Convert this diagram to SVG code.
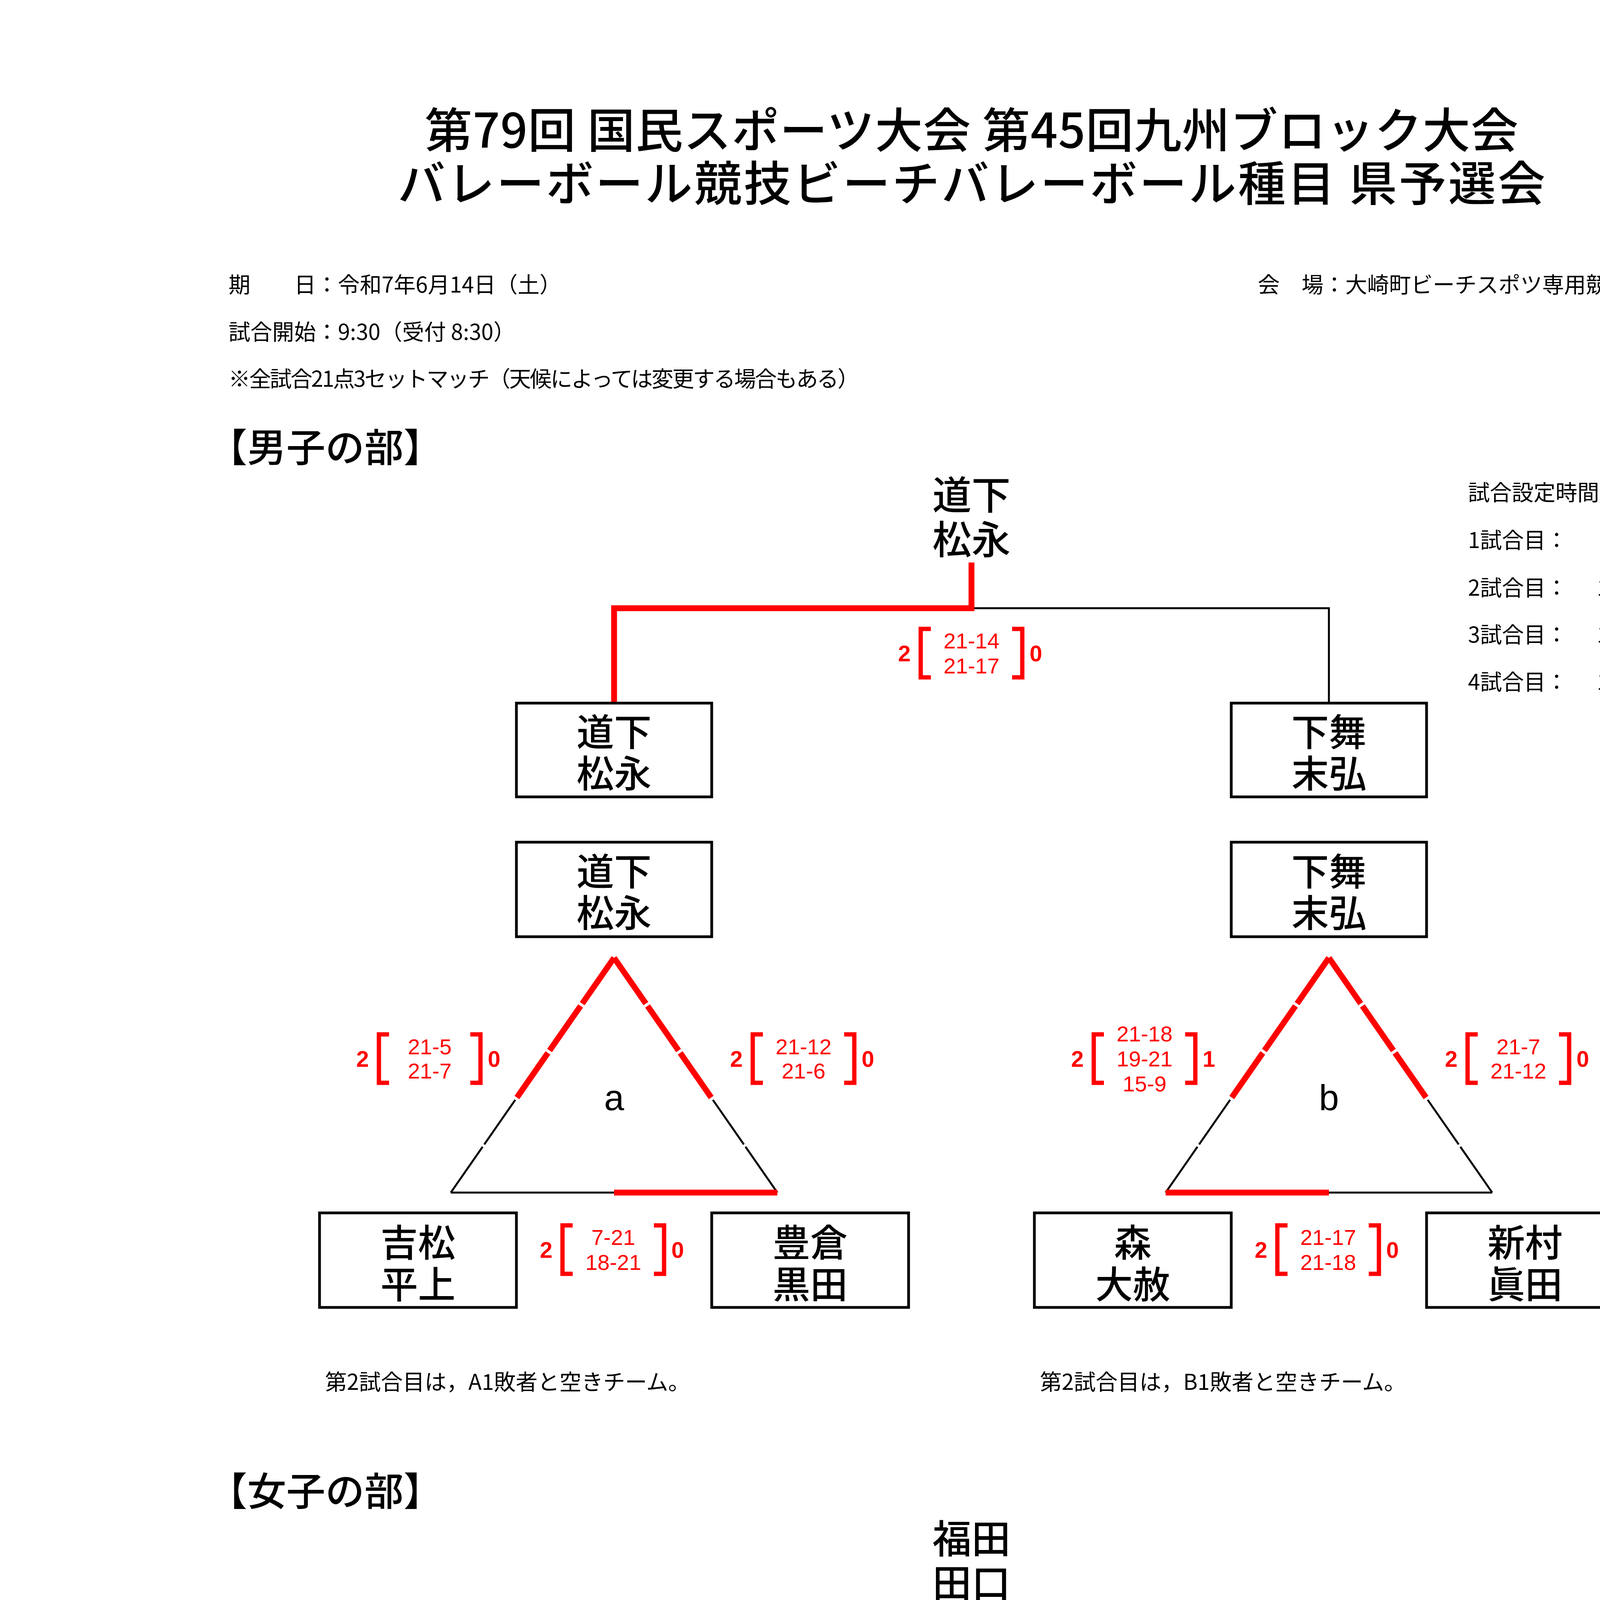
<svg xmlns="http://www.w3.org/2000/svg" width="4960" height="7015" viewBox="0 0 4960 7015">
<style>
.j{font-family:"Noto Sans CJK JP","Liberation Sans",sans-serif;fill:#000;dominant-baseline:central}
.ttl{font-size:122px;text-anchor:middle;font-weight:500}
.sm{font-size:56px}
.hd{font-size:100px;font-weight:500}
.tm{font-size:96px;text-anchor:middle;font-weight:500}
.ch{font-size:100px;text-anchor:middle;font-weight:500}
.lb{font-family:"Liberation Sans",Arial,sans-serif;font-size:92px;text-anchor:middle;fill:#000}
.s{font-family:"Liberation Sans",Arial,sans-serif;font-size:56px;fill:#f00;text-anchor:middle;dominant-baseline:central}
.sb{font-family:"Liberation Sans",Arial,sans-serif;font-size:58px;font-weight:bold;fill:#f00;text-anchor:middle;dominant-baseline:central}
.box{fill:#fff;stroke:#000;stroke-width:7}
.k{stroke:#000;stroke-width:5;fill:none}
.r{stroke:#f00;stroke-width:15;fill:none}
.br{stroke:#f00;stroke-width:11;fill:none;stroke-linejoin:miter}
</style>
<defs>
<g id="brk"><polyline class="br" points="-104,-62 -130,-62 -130,62 -104,62"/><polyline class="br" points="104,-62 130,-62 130,62 104,62"/></g>
</defs>
<rect width="4960" height="7015" fill="#fff"/>

<g id="header">
<text class="j ttl" x="2487" y="324" textLength="2800" lengthAdjust="spacing">第79回 国民スポーツ大会 第45回九州ブロック大会</text>
<text class="j ttl" x="2487" y="460" textLength="2938" lengthAdjust="spacing">バレーボール競技ビーチバレーボール種目 県予選会</text>
<text class="j sm" x="585" y="724">期　　日：令和7年6月14日（土）</text>
<text class="j sm" x="4228" y="724" text-anchor="end">会　場：大崎町ビーチスポツ専用競技場</text>
<text class="j sm" x="585" y="845">試合開始：9:30（受付 8:30）</text>
<text class="j sm" x="585" y="965" textLength="1615" lengthAdjust="spacing">※全試合21点3セットマッチ（天候によっては変更する場合もある）</text>
<text class="j hd" x="533" y="1138">【男子の部】</text>
<text class="j hd" x="533" y="3810">【女子の部】</text>
</g>

<g id="schedule">
<text class="j sm" x="3758" y="1256">試合設定時間</text>
<text class="j sm" x="3758" y="1378">1試合目：</text><text class="j sm" x="4228" y="1378" text-anchor="end">9:30</text>
<text class="j sm" x="3758" y="1500">2試合目：</text><text class="j sm" x="4228" y="1500" text-anchor="end">10:20</text>
<text class="j sm" x="3758" y="1620">3試合目：</text><text class="j sm" x="4228" y="1620" text-anchor="end">11:10</text>
<text class="j sm" x="3758" y="1741">4試合目：</text><text class="j sm" x="4228" y="1741" text-anchor="end">13:30</text>
</g>

<g id="connectors">
<g id="m-final-lines">
<polyline class="k" points="2487,1557 3402,1557 3402,1800"/>
<polyline class="r" points="2487,1440 2487,1557 1572,1557 1572,1800" stroke-linejoin="miter"/>
</g>
<g id="m-tri-a" transform="translate(1572,0)">
<line class="k" x1="-252.9" y1="2815.6" x2="-332.3" y2="2929.8"/>
<line class="k" x1="-336.5" y1="2935.8" x2="-418" y2="3053"/>
<line class="k" x1="252.9" y1="2815.6" x2="332.3" y2="2929.8"/>
<line class="k" x1="336.5" y1="2935.8" x2="418" y2="3053"/>
<line class="k" x1="-418" y1="3053" x2="0" y2="3053"/>
<line class="r" x1="0" y1="2452" x2="-81.5" y2="2569.2"/>
<line class="r" x1="-85.7" y1="2575.2" x2="-165.1" y2="2689.4"/>
<line class="r" x1="-169.3" y1="2695.4" x2="-248.7" y2="2809.6"/>
<line class="r" x1="0" y1="2452" x2="81.5" y2="2569.2"/>
<line class="r" x1="85.7" y1="2575.2" x2="165.1" y2="2689.4"/>
<line class="r" x1="169.3" y1="2695.4" x2="248.7" y2="2809.6"/>
<line class="r" x1="0" y1="3053" x2="418" y2="3053"/>
</g>
<g id="m-tri-b" transform="translate(3402,0)">
<line class="k" x1="-252.9" y1="2815.6" x2="-332.3" y2="2929.8"/>
<line class="k" x1="-336.5" y1="2935.8" x2="-418" y2="3053"/>
<line class="k" x1="252.9" y1="2815.6" x2="332.3" y2="2929.8"/>
<line class="k" x1="336.5" y1="2935.8" x2="418" y2="3053"/>
<line class="k" x1="0" y1="3053" x2="418" y2="3053"/>
<line class="r" x1="0" y1="2452" x2="-81.5" y2="2569.2"/>
<line class="r" x1="-85.7" y1="2575.2" x2="-165.1" y2="2689.4"/>
<line class="r" x1="-169.3" y1="2695.4" x2="-248.7" y2="2809.6"/>
<line class="r" x1="0" y1="2452" x2="81.5" y2="2569.2"/>
<line class="r" x1="85.7" y1="2575.2" x2="165.1" y2="2689.4"/>
<line class="r" x1="169.3" y1="2695.4" x2="248.7" y2="2809.6"/>
<line class="r" x1="-418" y1="3053" x2="0" y2="3053"/>
</g>
<g transform="translate(0,2672)">
<g id="w-final-lines">
<polyline class="k" points="2487,1557 3402,1557 3402,1800"/>
<polyline class="r" points="2487,1440 2487,1557 1572,1557 1572,1800" stroke-linejoin="miter"/>
</g>
<g id="w-tri-c" transform="translate(1572,0)">
<line class="k" x1="-252.9" y1="2815.6" x2="-332.3" y2="2929.8"/>
<line class="k" x1="-336.5" y1="2935.8" x2="-418" y2="3053"/>
<line class="k" x1="252.9" y1="2815.6" x2="332.3" y2="2929.8"/>
<line class="k" x1="336.5" y1="2935.8" x2="418" y2="3053"/>
<line class="k" x1="0" y1="3053" x2="418" y2="3053"/>
<line class="r" x1="0" y1="2452" x2="-81.5" y2="2569.2"/>
<line class="r" x1="-85.7" y1="2575.2" x2="-165.1" y2="2689.4"/>
<line class="r" x1="-169.3" y1="2695.4" x2="-248.7" y2="2809.6"/>
<line class="r" x1="0" y1="2452" x2="81.5" y2="2569.2"/>
<line class="r" x1="85.7" y1="2575.2" x2="165.1" y2="2689.4"/>
<line class="r" x1="169.3" y1="2695.4" x2="248.7" y2="2809.6"/>
<line class="r" x1="-418" y1="3053" x2="0" y2="3053"/>
</g>
<g id="w-tri-d" transform="translate(3402,0)">
<line class="k" x1="0" y1="2452" x2="-81.5" y2="2569.2"/>
<line class="k" x1="-85.7" y1="2575.2" x2="-165.1" y2="2689.4"/>
<line class="k" x1="252.9" y1="2815.6" x2="332.3" y2="2929.8"/>
<line class="k" x1="336.5" y1="2935.8" x2="418" y2="3053"/>
<line class="k" x1="0" y1="3053" x2="418" y2="3053"/>
<line class="r" x1="-169.3" y1="2695.4" x2="-248.7" y2="2809.6"/>
<line class="r" x1="-252.9" y1="2815.6" x2="-332.3" y2="2929.8"/>
<line class="r" x1="-336.5" y1="2935.8" x2="-418" y2="3053"/>
<line class="r" x1="0" y1="2452" x2="81.5" y2="2569.2"/>
<line class="r" x1="85.7" y1="2575.2" x2="165.1" y2="2689.4"/>
<line class="r" x1="169.3" y1="2695.4" x2="248.7" y2="2809.6"/>
<line class="r" x1="-418" y1="3053" x2="0" y2="3053"/>
</g>
</g>
</g>

<g id="men">
<g id="m-champion"><text class="j ch"><tspan x="2487" y="1260">道下</tspan><tspan x="2487" y="1374">松永</tspan></text></g>
<g id="m-final-left"><rect class="box" x="1322" y="1800" width="500" height="240"/><text class="j tm"><tspan x="1572" y="1867">道下</tspan><tspan x="1572" y="1973">松永</tspan></text></g>
<g id="m-final-right"><rect class="box" x="3152" y="1800" width="500" height="240"/><text class="j tm"><tspan x="3402" y="1867">下舞</tspan><tspan x="3402" y="1973">末弘</tspan></text></g>
<g transform="translate(1572,0)">
<g id="m-a-top"><rect class="box" x="-250" y="2156" width="500" height="242"/><text class="j tm"><tspan x="0" y="2224">道下</tspan><tspan x="0" y="2330">松永</tspan></text></g>
<g id="m-a-left"><rect class="box" x="-754" y="3105" width="504" height="242"/><text class="j tm"><tspan x="-502" y="3174">吉松</tspan><tspan x="-502" y="3281">平上</tspan></text></g>
<g id="m-a-right"><rect class="box" x="250" y="3105" width="504" height="242"/><text class="j tm"><tspan x="502" y="3174">豊倉</tspan><tspan x="502" y="3281">黒田</tspan></text></g>
<text class="lb" x="0" y="2842">a</text>
<text class="j sm" x="-740" y="3533">第2試合目は，A1敗者と空きチーム。</text>
</g>
<g transform="translate(3402,0)">
<g id="m-b-top"><rect class="box" x="-250" y="2156" width="500" height="242"/><text class="j tm"><tspan x="0" y="2224">下舞</tspan><tspan x="0" y="2330">末弘</tspan></text></g>
<g id="m-b-left"><rect class="box" x="-754" y="3105" width="504" height="242"/><text class="j tm"><tspan x="-502" y="3174">森</tspan><tspan x="-502" y="3281">大赦</tspan></text></g>
<g id="m-b-right"><rect class="box" x="250" y="3105" width="504" height="242"/><text class="j tm"><tspan x="502" y="3174">新村</tspan><tspan x="502" y="3281">眞田</tspan></text></g>
<text class="lb" x="0" y="2842">b</text>
<text class="j sm" x="-740" y="3533">第2試合目は，B1敗者と空きチーム。</text>
</g>
</g>

<g id="women" transform="translate(0,2672)">
<g id="w-champion"><text class="j ch"><tspan x="2487" y="1260">福田</tspan><tspan x="2487" y="1374">田口</tspan></text></g>
<g id="w-final-left"><rect class="box" x="1322" y="1800" width="500" height="240"/><text class="j tm"><tspan x="1572" y="1867">福田</tspan><tspan x="1572" y="1973">田口</tspan></text></g>
<g id="w-final-right"><rect class="box" x="3152" y="1800" width="500" height="240"/><text class="j tm"><tspan x="3402" y="1867">末弘</tspan><tspan x="3402" y="1973">久保園</tspan></text></g>
<g transform="translate(1572,0)">
<g id="w-c-top"><rect class="box" x="-250" y="2156" width="500" height="242"/><text class="j tm"><tspan x="0" y="2224">福田</tspan><tspan x="0" y="2330">田口</tspan></text></g>
<g id="w-c-left"><rect class="box" x="-754" y="3105" width="504" height="242"/><text class="j tm"><tspan x="-502" y="3174">永田</tspan><tspan x="-502" y="3281">下酔尾</tspan></text></g>
<g id="w-c-right"><rect class="box" x="250" y="3105" width="504" height="242"/><text class="j tm"><tspan x="502" y="3174">荒田</tspan><tspan x="502" y="3281">中野</tspan></text></g>
<text class="lb" x="0" y="2842">c</text>
<text class="j sm" x="-740" y="3533">第2試合目は，C1敗者と空きチーム。</text>
</g>
<g transform="translate(3402,0)">
<g id="w-d-top"><rect class="box" x="-250" y="2156" width="500" height="242"/><text class="j tm"><tspan x="0" y="2224">有馬</tspan><tspan x="0" y="2330">西森</tspan></text></g>
<g id="w-d-left"><rect class="box" x="-754" y="3105" width="504" height="242"/><text class="j tm"><tspan x="-502" y="3174">末弘</tspan><tspan x="-502" y="3281">久保園</tspan></text></g>
<g id="w-d-right"><rect class="box" x="250" y="3105" width="504" height="242"/><text class="j tm"><tspan x="502" y="3174">池田</tspan><tspan x="502" y="3281">甫村</tspan></text></g>
<text class="lb" x="0" y="2842">d</text>
<text class="j sm" x="-740" y="3533">第2試合目は，D1敗者と空きチーム。</text>
</g>
</g>

<g id="scores">
<g transform="translate(2487,1672)"><use href="#brk"/><text class="sb" x="-172">2</text><text class="s"><tspan x="0" y="-32">21-14</tspan><tspan x="0" y="32">21-17</tspan></text><text class="sb" x="165">0</text></g>
<g transform="translate(1100,2710)"><use href="#brk"/><text class="sb" x="-172">2</text><text class="s"><tspan x="0" y="-31">21-5</tspan><tspan x="0" y="31">21-7</tspan></text><text class="sb" x="165">0</text></g>
<g transform="translate(2057,2710)"><use href="#brk"/><text class="sb" x="-172">2</text><text class="s"><tspan x="0" y="-31">21-12</tspan><tspan x="0" y="31">21-6</tspan></text><text class="sb" x="165">0</text></g>
<g transform="translate(1570,3199)"><use href="#brk"/><text class="sb" x="-172">2</text><text class="s"><tspan x="0" y="-32">7-21</tspan><tspan x="0" y="32">18-21</tspan></text><text class="sb" x="165">0</text></g>
<g transform="translate(2930,2710)"><use href="#brk"/><text class="sb" x="-172">2</text><text class="s"><tspan x="0" y="-64">21-18</tspan><tspan x="0" y="0">19-21</tspan><tspan x="0" y="64">15-9</tspan></text><text class="sb" x="165">1</text></g>
<g transform="translate(3887,2710)"><use href="#brk"/><text class="sb" x="-172">2</text><text class="s"><tspan x="0" y="-31">21-7</tspan><tspan x="0" y="31">21-12</tspan></text><text class="sb" x="165">0</text></g>
<g transform="translate(3400,3199)"><use href="#brk"/><text class="sb" x="-172">2</text><text class="s"><tspan x="0" y="-32">21-17</tspan><tspan x="0" y="32">21-18</tspan></text><text class="sb" x="165">0</text></g>
<g transform="translate(0,2672)">
<g transform="translate(2487,1672)"><use href="#brk"/><text class="sb" x="-172">2</text><text class="s"><tspan x="0" y="-32">21-10</tspan><tspan x="0" y="32">21-11</tspan></text><text class="sb" x="165">0</text></g>
<g transform="translate(1100,2710)"><use href="#brk"/><text class="sb" x="-172">2</text><text class="s"><tspan x="0" y="-64">21-15</tspan><tspan x="0" y="0">19-21</tspan><tspan x="0" y="64">15-8</tspan></text><text class="sb" x="165">1</text></g>
<g transform="translate(2057,2710)"><use href="#brk"/><text class="sb" x="-172">2</text><text class="s"><tspan x="0" y="-31">21-7</tspan><tspan x="0" y="31">21-3</tspan></text><text class="sb" x="165">0</text></g>
<g transform="translate(1570,3199)"><use href="#brk"/><text class="sb" x="-172">2</text><text class="s"><tspan x="0" y="-32">21-5</tspan><tspan x="0" y="32">21-8</tspan></text><text class="sb" x="165">0</text></g>
<g transform="translate(2930,2710)"><use href="#brk"/><text class="sb" x="-172">2</text><text class="s"><tspan x="0" y="-64">20-22</tspan><tspan x="0" y="0">21-10</tspan><tspan x="0" y="64">15-8</tspan></text><text class="sb" x="165">1</text></g>
<g transform="translate(3887,2710)"><use href="#brk"/><text class="sb" x="-172">2</text><text class="s"><tspan x="0" y="-31">21-3</tspan><tspan x="0" y="31">21-17</tspan></text><text class="sb" x="165">0</text></g>
<g transform="translate(3400,3199)"><use href="#brk"/><text class="sb" x="-172">2</text><text class="s"><tspan x="0" y="-32">21-6</tspan><tspan x="0" y="32">21-15</tspan></text><text class="sb" x="165">0</text></g>
</g>
</g>

<text id="note" class="j sm" x="2368" y="6507" text-anchor="middle">※男女優勝チームは，令和7年7月11日（金）～13日（日）に長崎県諫早市で開催される，第45回九州ブロック大会に推薦する。</text>
</svg>
